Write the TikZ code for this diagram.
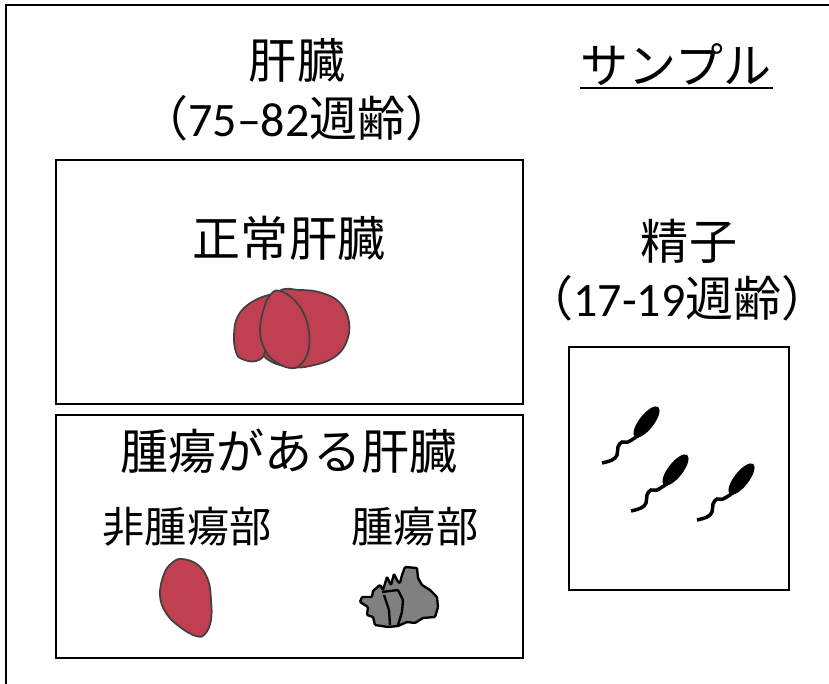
\documentclass[tikz,border=0pt]{standalone}
\usepackage{fontspec}
\setmainfont{Noto Sans CJK JP}
\newfontfamily\calfont{Carlito}
\usepackage{tikz}
\usetikzlibrary{arrows}

\definecolor{liverred}{RGB}{192,64,82}
\definecolor{tumorgray}{RGB}{128,128,128}
\definecolor{outlinegray}{RGB}{64,64,64}

\newcommand{\bigtxt}{\fontsize{41}{48}\selectfont}
\newcommand{\smalltxt}{\fontsize{36}{42}\selectfont}
\newcommand{\digits}[1]{{\calfont #1}}

\tikzset{
  panel/.style={draw=black,line width=2pt},
  liver/.style={fill=liverred,draw=outlinegray,line width=1.5pt},
  tumor/.style={fill=tumorgray,draw=black,line width=2pt,rounded corners=0.8pt},
  label/.style={inner sep=0pt,font=\bigtxt},
  sublabel/.style={inner sep=0pt,font=\smalltxt}
}

\begin{document}
\begin{tikzpicture}[x=0.03cm,y=-0.03cm]
\useasboundingbox (0,0) rectangle (829,684);
\draw[line width=2pt] (6,684) -- (6,5) -- (829,5);
% liver column
\node[label] (organ) at (297,60) {肝臓};
\node[label] (organage) at (297,118) {（\digits{75–82}週齢）};
\draw[panel] (56,160) rectangle (523,404);
\node[label] (normal) at (289,238) {正常肝臓};
  \draw[liver] plot[smooth cycle,tension=0.7] coordinates {(278,292) (300,290) (322,293) (340,303) (349,322) (346,343) (333,358) (310,366) (292,367) (272,362) (262,350) (262,320)};
  \draw[liver] plot[smooth cycle,tension=0.7] coordinates {(272,295) (252,302) (238,316) (234,335) (236,352) (242,359) (256,361) (265,352) (262,330) (266,308)};
  \draw[liver] plot[smooth cycle,tension=0.7] coordinates {(280,291) (292,298) (303,312) (309,332) (308,352) (300,365) (290,368) (276,362) (265,350) (260,330) (265,305) (272,293)};
\draw[panel] (56,415) rectangle (523,658);
\node[label] (withtumor) at (289,451) {腫瘍がある肝臓};
\node[sublabel] (nontumor) at (187,527) {非腫瘍部};
\node[sublabel] (tumor) at (415,527) {腫瘍部};
  \draw[liver] plot[smooth cycle,tension=0.7] coordinates {(182,559) (198,565) (208,580) (211,600) (211,620) (205,634) (196,636) (180,627) (166,613) (160,595) (164,574) (172,563)};
  \draw[tumor] (405,567) -- (417,568) -- (418,578) -- (422,585) -- (430,590) -- (437,597) -- (438,607) -- (435,617) -- (423,618) -- (415,623) -- (407,622) -- (398,626) -- (388,627) -- (375,625) -- (373,617) -- (367,615) -- (368,607) -- (360,602) -- (362,597) -- (372,597) -- (373,591) -- (380,585) -- (383,590) -- (387,577) -- (391,585) -- (394,574) -- (398,582) -- (400,583) -- (402,575) -- cycle;
  \draw[black,line width=2pt,rounded corners=0.8pt] (382,592) -- (398,590) -- (403,600) -- (402,612) -- (398,625);
  \draw[black,line width=2pt,rounded corners=0.8pt] (384,595) -- (389,610) -- (390,625);
% sample column
\node[label] (sample) at (676,65) {サンプル};
\draw[line width=2pt] (580,88) -- (773,88);
\node[label] (sperm) at (689,241) {精子};
\node[label] (spermage) at (687,298) {\hspace{-0.4em}（\digits{17-19}週齢）\hspace{-0.4em}};
\draw[panel] (569,347) rectangle (789,590);
\foreach \bx/\by in {636/437,665/485,731/494}
{
  \begin{scope}[shift={(\bx,\by)}]
    \fill[rotate around={52:(10.5,-15)}] (10.5,-15) ellipse [x radius=0.57cm,y radius=0.22cm];
    \draw[line width=3pt] plot[smooth,tension=0.7] coordinates {(3,-2) (-8,5) (-14,5) (-18,10) (-19,18) (-24,23) (-34,26)};
  \end{scope}
}
\end{tikzpicture}
\end{document}
